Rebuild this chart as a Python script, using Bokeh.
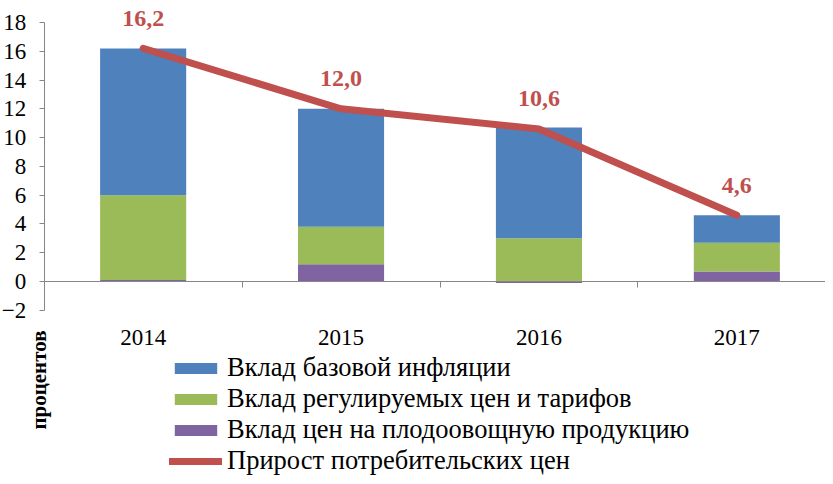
import math
from bokeh.plotting import figure
from bokeh.models import (ColumnDataSource, LinearAxis, FixedTicker, Range1d,
                          Legend, LegendItem, Label)
from bokeh.embed import file_html
from bokeh.resources import INLINE
from bokeh.core.properties import value

# ---- data ----
years = ["2014", "2015", "2016", "2017"]
base_inflation = [10.2, 8.2, 7.7, 1.9]      # Вклад базовой инфляции
regulated = [5.9, 2.6, 3.0, 2.0]            # Вклад регулируемых цен и тарифов
fruit_veg = [0.1, 1.2, -0.1, 0.7]           # Вклад цен на плодоовощную продукцию
cpi_growth = [16.2, 12.0, 10.6, 4.6]        # Прирост потребительских цен
cpi_labels = ["16,2", "12,0", "10,6", "4,6"]
y_ticks = [-2, 0, 2, 4, 6, 8, 10, 12, 14, 16, 18]
series_names = ["Вклад базовой инфляции",
                "Вклад регулируемых цен и тарифов",
                "Вклад цен на плодоовощную продукцию",
                "Прирост потребительских цен"]
y_title = "процентов"

BLUE, GREEN, PURPLE, RED = "#4F81BD", "#9BBB59", "#8064A2", "#C0504D"
AXIS_GRAY = "#868686"
FONT = "Liberation Serif"

W, H = 825, 476
n = len(years)
xs = list(range(1, n + 1))

# Excel-like stacking: positives stack upward from 0, negatives downward from 0
pos = [0.0] * n
neg = [0.0] * n
stacks = {}
for key, vals in [("fruit", fruit_veg), ("reg", regulated), ("base", base_inflation)]:
    bottoms, tops = [], []
    for i, v in enumerate(vals):
        if v >= 0:
            b = pos[i]; pos[i] += v
        else:
            b = neg[i]; neg[i] += v
        bottoms.append(b); tops.append(b + v)
    stacks[key] = ColumnDataSource(dict(x=xs, bottom=bottoms, top=tops))

# plot frame covers the whole canvas; axes are pinned with fixed_location
PX_X = 197.9          # pixels per category
X0_PX = 43.7          # pixel position of x = 0.5
PX_Y = 14.39          # pixels per unit
Y0_PX = 281.0         # pixel position of y = 0
x_start = 0.5 - X0_PX / PX_X
x_end = 0.5 + (W - X0_PX) / PX_X
y_end = Y0_PX / PX_Y
y_start = -(H - Y0_PX) / PX_Y

p = figure(width=W, height=H, output_backend="svg", toolbar_location=None,
           x_range=Range1d(x_start, x_end), y_range=Range1d(y_start, y_end),
           x_axis_location=None, y_axis_location=None,
           min_border=0, min_border_left=0, min_border_right=0,
           min_border_top=0, min_border_bottom=0)
p.outline_line_color = None
p.grid.grid_line_color = None
p.background_fill_color = "white"
p.border_fill_color = "white"

BAR_W = 0.435
r_fruit = p.vbar(x="x", bottom="bottom", top="top", width=BAR_W, source=stacks["fruit"],
                 fill_color=PURPLE, line_color=None)
r_reg = p.vbar(x="x", bottom="bottom", top="top", width=BAR_W, source=stacks["reg"],
               fill_color=GREEN, line_color=None)
r_base = p.vbar(x="x", bottom="bottom", top="top", width=BAR_W, source=stacks["base"],
                fill_color=BLUE, line_color=None)

r_line = p.line(xs, cpi_growth, line_width=7, line_color=RED,
                line_cap="round", line_join="round")
p.text(x=xs, y=cpi_growth, text=cpi_labels, y_offset=-30,
       text_align="center", text_baseline="middle",
       text_font=value(FONT), text_font_style="bold",
       text_font_size="24px", text_color=RED)

# y axis pinned at the left edge of the category area
ya = LinearAxis(fixed_location=0.5, bounds=(y_ticks[0], y_ticks[-1]),
                ticker=FixedTicker(ticks=y_ticks),
                major_tick_out=5, major_tick_in=0, minor_tick_line_color=None,
                axis_line_color=AXIS_GRAY, major_tick_line_color=AXIS_GRAY,
                major_label_text_font=FONT, major_label_text_font_size="23px",
                major_label_text_color="black", major_label_standoff=13)
p.add_layout(ya, "left")

# zero line with category-separating ticks
boundaries = [i + 0.5 for i in xs[:-1]]
zero_axis = LinearAxis(fixed_location=0, bounds=(0.5, n + 0.5),
                       ticker=FixedTicker(ticks=boundaries),
                       major_label_overrides={b: "" for b in boundaries},
                       major_tick_out=6, major_tick_in=0,
                       minor_tick_line_color=None,
                       axis_line_color=AXIS_GRAY, major_tick_line_color=AXIS_GRAY,
                       major_label_standoff=0)
p.add_layout(zero_axis, "below")

# category labels under the bottom of the value axis
label_axis = LinearAxis(fixed_location=y_ticks[0], ticker=FixedTicker(ticks=xs),
                        major_label_overrides={x: y for x, y in zip(xs, years)},
                        axis_line_color=None, major_tick_line_color=None,
                        minor_tick_line_color=None,
                        major_label_text_font=FONT,
                        major_label_text_font_size="23px",
                        major_label_text_color="black",
                        major_label_standoff=14)
p.add_layout(label_axis, "below")

legend = Legend(items=[LegendItem(label=series_names[0], renderers=[r_base]),
                       LegendItem(label=series_names[1], renderers=[r_reg]),
                       LegendItem(label=series_names[2], renderers=[r_fruit]),
                       LegendItem(label=series_names[3], renderers=[r_line])],
                location=(169, 0), orientation="vertical",
                glyph_width=53, glyph_height=14, label_standoff=5,
                label_height=30, spacing=0, padding=0, margin=0,
                border_line_color=None, background_fill_alpha=0,
                label_text_font=FONT, label_text_font_size="26.5px",
                label_text_color="black")
p.add_layout(legend)

p.add_layout(Label(x=38, y=H - 379.5, x_units="screen", y_units="screen", text=y_title,
                   angle=math.pi / 2, text_align="center", text_baseline="middle",
                   text_font=FONT, text_font_style="bold", text_font_size="21px",
                   text_color="black"))

open("out.html", "w").write(file_html(p, INLINE))
